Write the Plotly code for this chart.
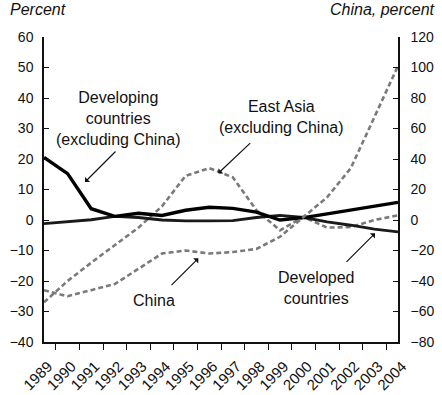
import plotly.graph_objects as go

years = [str(y) for y in range(1989, 2005)]
developing = [20.5, 15.2, 3.7, 1.2, 2.2, 1.5, 3.2, 4.2, 3.8, 2.6, 0.0, 0.8, 2.0, 3.2, 4.5, 5.8]
developed = [-1.2, -0.6, 0.1, 1.2, 0.8, 0.0, -0.3, -0.3, -0.2, 0.8, 1.5, 0.8, -0.6, -1.7, -3.0, -3.9]
east_asia = [-27.0, -20.0, -14.0, -8.3, -2.5, 4.5, 14.5, 17.0, 14.0, 3.2, -3.4, 1.0, -2.5, -2.3, 0.0, 1.5]
china = [-46, -50, -46, -42, -32, -22, -20, -22, -21, -19, -11, 2, 15, 34, 68, 101]

left_ticks = list(range(-40, 61, 10))
right_ticks = list(range(-80, 121, 20))

FONT = "Liberation Sans, Arial, sans-serif"
GRAY = "#7a7a7a"

fig = go.Figure()
fig.add_trace(go.Scatter(x=years, y=east_asia, mode="lines",
                         line=dict(color=GRAY, width=2.6, dash="5px,3px"), yaxis="y"))
fig.add_trace(go.Scatter(x=years, y=china, mode="lines",
                         line=dict(color=GRAY, width=2.6, dash="5px,3px"), yaxis="y2"))
fig.add_trace(go.Scatter(x=years, y=developed, mode="lines",
                         line=dict(color="#1a1a1a", width=2.9), yaxis="y"))
fig.add_trace(go.Scatter(x=years, y=developing, mode="lines",
                         line=dict(color="#000000", width=3.4), yaxis="y"))

W, H = 442, 395
L, R, T, B = 44, 44, 37, 53
pw, ph = W - L - R, H - T - B


def px(x):
    return (x - L) / pw


def py(y):
    return (H - B - y) / ph


annos = []
texts = [
    ("Developing<br>countries<br>(excluding China)", 118.5, 118),
    ("East Asia<br>(excluding China)", 281, 117),
    ("China", 154, 300),
    ("Developed<br>countries", 316.5, 287.5),
]
for t, x, y in texts:
    annos.append(dict(text=t, x=px(x), y=py(y), xref="paper", yref="paper",
                      showarrow=False, xanchor="center", yanchor="middle",
                      font=dict(family=FONT, size=16, color="#111")))

arrows = [
    (85, 182, 117, 150),
    (218.3, 173.3, 251.7, 141.7),
    (198.3, 258.3, 170, 286.7),
    (375, 233.3, 345, 263.3),
]
for tx, ty, sx, sy in arrows:
    annos.append(dict(text="", x=px(tx), y=py(ty), xref="paper", yref="paper",
                      showarrow=True, ax=sx - tx, ay=sy - ty, arrowhead=1,
                      arrowsize=1, arrowwidth=1.2, arrowcolor="#111"))

annos.append(dict(text="<i>Percent</i>", x=px(8), y=py(10), xref="paper", yref="paper",
                  showarrow=False, xanchor="left", yanchor="middle",
                  font=dict(family=FONT, size=16, color="#111")))
annos.append(dict(text="<i>China, percent</i>", x=px(437), y=py(10), xref="paper", yref="paper",
                  showarrow=False, xanchor="right", yanchor="middle",
                  font=dict(family=FONT, size=16, color="#111")))

fig.update_layout(
    width=W, height=H,
    margin=dict(l=L, r=R, t=T, b=B, pad=0, autoexpand=False),
    paper_bgcolor="white", plot_bgcolor="white",
    showlegend=False,
    font=dict(family=FONT, size=14, color="#111"),
    xaxis=dict(type="category", tickson="boundaries", ticks="outside", ticklen=6,
               tickcolor="#111", showline=True, linecolor="#111", linewidth=1.5,
               showgrid=False, zeroline=False, tickangle=-45, automargin=False,
               ticklabelshift=4, ticklabelstandoff=8,
               tickfont=dict(family=FONT, size=15, color="#111")),
    yaxis=dict(range=[-40, 60], tickvals=left_ticks, ticks="inside", ticklen=5,
               tickcolor="#111", showline=True, linecolor="#111", linewidth=1.5,
               showgrid=False, zeroline=False, ticklabelstandoff=6, automargin=False,
               tickfont=dict(family=FONT, size=14, color="#111")),
    yaxis2=dict(range=[-80, 120], tickvals=right_ticks, ticks="inside", ticklen=5,
                tickcolor="#111", showline=True, linecolor="#111", linewidth=1.5,
                showgrid=False, zeroline=False, overlaying="y", side="right",
                ticklabelstandoff=8, automargin=False,
                tickfont=dict(family=FONT, size=14, color="#111")),
    annotations=annos,
)

fig.write_html("out.html", config={"displayModeBar": False},
               post_script="document.body.style.margin='0';document.body.style.overflow='hidden';")
